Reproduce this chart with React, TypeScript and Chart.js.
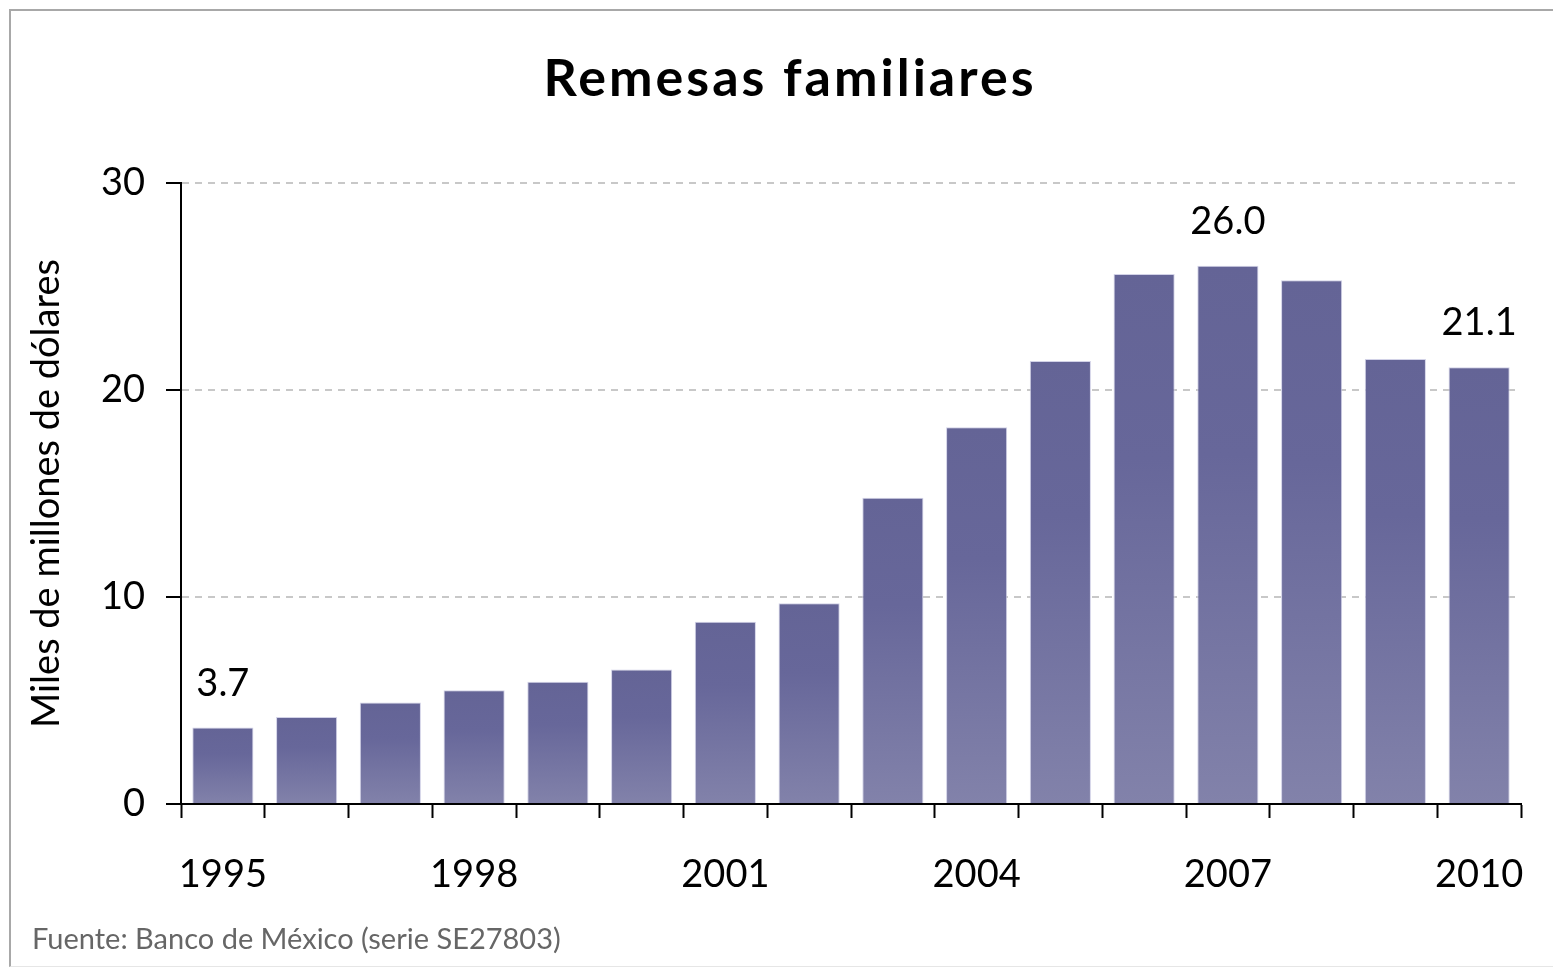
import React, { useEffect, useRef } from "react";
import { Chart, registerables } from "chart.js";

Chart.register(...registerables);

const years = ["1995","1996","1997","1998","1999","2000","2001","2002","2003","2004","2005","2006","2007","2008","2009","2010"];
const remesas = [3.7, 4.2, 4.9, 5.5, 5.9, 6.5, 8.8, 9.7, 14.8, 18.2, 21.4, 25.6, 26.0, 25.3, 21.5, 21.1];
const shownYearLabels = ["1995", "1998", "2001", "2004", "2007", "2010"];
const labeledYears = ["1995", "2007", "2010"];
const yTicks = [0, 10, 20, 30];
const titleText = "Remesas familiares";
const yAxisTitle = "Miles de millones de dólares";
const sourceText = "Fuente: Banco de México (serie SE27803)";

const FONT = "Lato, 'Open Sans', sans-serif";

const titlePlugin = {
  id: "centeredTitle",
  afterDraw(chart: any) {
    const ctx = chart.ctx;
    ctx.save();
    ctx.font = `bold 52px ${FONT}`;
    try { (ctx as any).letterSpacing = "3px"; } catch (e) {}
    ctx.fillStyle = "#000";
    ctx.textAlign = "center";
    ctx.textBaseline = "alphabetic";
    ctx.fillText(titleText, 790, 96);
    ctx.restore();
  },
};

const dataLabelPlugin = {
  id: "dataLabels",
  afterDatasetsDraw(chart: any) {
    const ctx = chart.ctx;
    const meta = chart.getDatasetMeta(0);
    ctx.save();
    ctx.font = `38px ${FONT}`;
    ctx.fillStyle = "#000";
    ctx.textAlign = "center";
    ctx.textBaseline = "middle";
    labeledYears.forEach((yr) => {
      const i = years.indexOf(yr);
      const el = meta.data[i];
      if (!el) return;
      ctx.fillText(remesas[i].toFixed(1), el.x, el.y - 44);
    });
    ctx.restore();
  },
};

const sourcePlugin = {
  id: "sourceText",
  afterDraw(chart: any) {
    const ctx = chart.ctx;
    ctx.save();
    ctx.font = `29px ${FONT}`;
    ctx.fillStyle = "#666666";
    ctx.textAlign = "left";
    ctx.textBaseline = "middle";
    ctx.fillText(sourceText, 32, 940);
    ctx.restore();
  },
};

export default function App() {
  const canvasRef = useRef<HTMLCanvasElement | null>(null);

  useEffect(() => {
    if (!canvasRef.current) return;
    const chart = new Chart(canvasRef.current, {
      type: "bar",
      data: {
        labels: years,
        datasets: [
          {
            data: remesas,
            backgroundColor: (c: any) => {
              const ch = c.chart;
              const ys = ch.scales && ch.scales.y;
              if (!ch.chartArea || !ys || c.parsed == null) return "#70709e";
              const top = ys.getPixelForValue(c.parsed.y);
              const base = ys.getPixelForValue(0);
              const g = ch.ctx.createLinearGradient(0, top, 0, base);
              g.addColorStop(0, "#646496");
              g.addColorStop(0.35, "#67679a");
              g.addColorStop(1, "#8282aa");
              return g;
            },
            borderColor: "rgba(205,205,228,0.9)",
            borderWidth: { top: 1, left: 1, right: 1, bottom: 0 },
            borderSkipped: "bottom",
            categoryPercentage: 1,
            barPercentage: 0.73,
          },
        ],
      },
      options: {
        animation: false,
        responsive: false,
        layout: { padding: { left: 0, right: 32, top: 183, bottom: 0 } },
        plugins: {
          legend: { display: false },
          tooltip: { enabled: false },
          title: { display: false },
        },
        scales: {
          x: {
            type: "category",
            offset: true,
            grid: {
              offset: true,
              drawOnChartArea: false,
              drawTicks: true,
              tickLength: 14,
              tickColor: "#000",
              tickWidth: 2,
              tickBorderDash: [],
            },
            border: { display: true, color: "#000", width: 2 },
            ticks: {
              autoSkip: false,
              maxRotation: 0,
              color: "#000",
              padding: 34,
              font: { family: FONT, size: 38 },
              callback: function (this: any, _v: any, i: number) {
                const l = years[i];
                return shownYearLabels.includes(l) ? l : "";
              },
            },
            afterFit: (s: any) => {
              s.height = 163;
              s.paddingLeft = 0;
              s.paddingRight = 0;
            },
          },
          y: {
            min: 0,
            max: 30,
            afterBuildTicks: (s: any) => {
              s.ticks = yTicks.map((v) => ({ value: v }));
            },
            grid: {
              color: "#c8c8c8",
              lineWidth: 2,
              drawTicks: true,
              tickLength: 15,
              tickColor: "#000",
              tickWidth: 2,
              tickBorderDash: [],
            },
            border: { display: true, color: "#000", width: 2, dash: [7, 6] },
            ticks: {
              color: "#000",
              padding: 21,
              font: { family: FONT, size: 38 },
            },
            title: {
              display: true,
              text: yAxisTitle,
              color: "#000",
              font: { family: FONT, size: 38 },
              padding: { top: 24, bottom: 0 },
            },
            afterFit: (s: any) => {
              s.width = 181;
              s.paddingTop = 0;
              s.paddingBottom = 0;
            },
          },
        },
      },
      plugins: [titlePlugin, dataLabelPlugin, sourcePlugin],
    } as any);
    return () => chart.destroy();
  }, []);

  return (
    <div style={{ position: "fixed", left: 0, top: 0, width: 1553, height: 967, background: "#fff", overflow: "hidden" }}>
      <canvas ref={canvasRef} width={1553} height={967} style={{ position: "absolute", left: 0, top: 0 }} />
      <div
        style={{
          position: "absolute",
          left: 9,
          top: 9,
          width: 1600,
          height: 955,
          borderLeft: "2px solid #a8a8a8",
          borderTop: "2px solid #a8a8a8",
          borderBottom: "1px solid #e6e6e6",
          pointerEvents: "none",
        }}
      />
    </div>
  );
}
